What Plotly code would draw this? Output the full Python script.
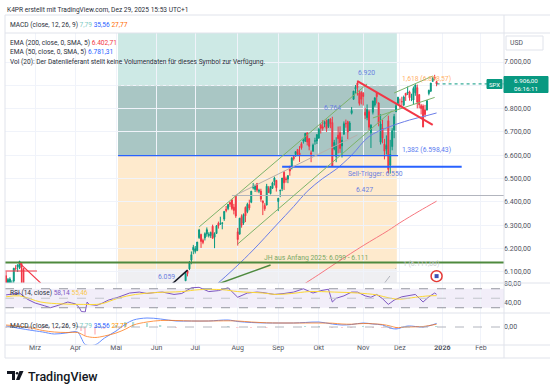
import plotly.graph_objects as go
from plotly.subplots import make_subplots

# ---------------- data ----------------
dates = [
    "2025-02-06","2025-02-07","2025-02-10","2025-02-11","2025-02-12","2025-02-13","2025-02-14","2025-02-18","2025-02-19","2025-02-20","2025-02-21","2025-02-24",
    "2025-06-24","2025-06-25","2025-06-26","2025-06-27","2025-06-30",
    "2025-07-01","2025-07-02","2025-07-03","2025-07-07","2025-07-08","2025-07-09","2025-07-10","2025-07-11","2025-07-14","2025-07-15","2025-07-16","2025-07-17","2025-07-18","2025-07-21","2025-07-22","2025-07-23","2025-07-24","2025-07-25","2025-07-28","2025-07-29","2025-07-30","2025-07-31",
    "2025-08-01","2025-08-04","2025-08-05","2025-08-06","2025-08-07","2025-08-08","2025-08-11","2025-08-12","2025-08-13","2025-08-14","2025-08-15","2025-08-18","2025-08-19","2025-08-20","2025-08-21","2025-08-22","2025-08-25","2025-08-26","2025-08-27","2025-08-28","2025-08-29",
    "2025-09-02","2025-09-03","2025-09-04","2025-09-05","2025-09-08","2025-09-09","2025-09-10","2025-09-11","2025-09-12","2025-09-15","2025-09-16","2025-09-17","2025-09-18","2025-09-19","2025-09-22","2025-09-23","2025-09-24","2025-09-25","2025-09-26","2025-09-29","2025-09-30",
    "2025-10-01","2025-10-02","2025-10-03","2025-10-06","2025-10-07","2025-10-08","2025-10-09","2025-10-10","2025-10-13","2025-10-14","2025-10-15","2025-10-16","2025-10-17","2025-10-20","2025-10-21","2025-10-22","2025-10-23","2025-10-24","2025-10-27","2025-10-28","2025-10-29","2025-10-30","2025-10-31",
    "2025-11-03","2025-11-04","2025-11-05","2025-11-06","2025-11-07","2025-11-10","2025-11-11","2025-11-12","2025-11-13","2025-11-14","2025-11-17","2025-11-18","2025-11-19","2025-11-20","2025-11-21","2025-11-24","2025-11-25","2025-11-26","2025-11-28",
    "2025-12-01","2025-12-02","2025-12-03","2025-12-04","2025-12-05","2025-12-08","2025-12-09","2025-12-10","2025-12-11","2025-12-12","2025-12-15","2025-12-16","2025-12-17","2025-12-18","2025-12-19","2025-12-22","2025-12-23","2025-12-24","2025-12-26","2025-12-29",
]
opens = [
    6073,6083,6047,6049,6026,6060,6116,6121,6117,6134,6114,6027,
    6061,6104,6112,6150,6193,
    6187,6191,6246,6260,6235,6245,6262,6255,6255,6295,6248,6264,6308,6304,6307,6326,6368,6371,6397,6409,6377,6427,
    6271,6261,6337,6309,6376,6358,6388,6398,6460,6453,6478,6445,6446,6404,6384,6386,6457,6435,6458,6486,6492,
    6401,6447,6456,6527,6499,6497,6547,6545,6594,6603,6624,6610,6649,6661,6660,6696,6671,6610,6617,6661,6661,
    6674,6731,6722,6735,6749,6723,6755,6740,6627,6594,6686,6697,6640,6690,6736,6744,6705,6780,6840,6885,6910,6867,6870,
    6866,6784,6761,6787,6696,6784,6815,6867,6824,6656,6717,6648,6626,6748,6557,6637,6708,6787,6822,
    6813,6830,6815,6866,6867,6872,6840,6837,6868,6890,6860,6813,6811,6795,6794,6865,6875,6917,6935,6916,
]
highs = [
    6084,6101,6073,6076,6063,6116,6128,6130,6147,6134,6115,6044,
    6101,6108,6146,6187,6215,
    6210,6227,6284,6263,6242,6269,6290,6269,6272,6302,6269,6300,6315,6336,6310,6360,6382,6390,6402,6409,6391,6428,
    6288,6330,6346,6350,6380,6396,6409,6446,6481,6474,6481,6456,6456,6404,6394,6477,6467,6466,6486,6508,6493,
    6416,6453,6502,6533,6508,6513,6555,6592,6600,6616,6627,6639,6656,6671,6695,6697,6673,6620,6650,6675,6689,
    6718,6732,6750,6747,6753,6755,6759,6765,6666,6677,6723,6724,6680,6745,6753,6748,6746,6807,6875,6901,6920,6879,6875,
    6871,6803,6818,6795,6733,6834,6846,6869,6827,6776,6752,6670,6685,6770,6666,6716,6777,6825,6850,
    6843,6851,6856,6866,6895,6877,6864,6895,6904,6903,6862,6820,6818,6816,6837,6881,6910,6935,6945,6919,
]
lows = [
    6060,6020,6045,6043,6003,6051,6105,6099,6111,6084,6009,5982,
    6061,6080,6107,6132,6175,
    6178,6188,6241,6202,6218,6234,6250,6247,6245,6241,6201,6263,6285,6303,6282,6318,6355,6364,6378,6364,6346,6331,
    6212,6261,6289,6301,6313,6351,6364,6394,6453,6442,6441,6437,6400,6343,6361,6385,6438,6432,6455,6470,6444,
    6360,6420,6446,6451,6482,6480,6512,6539,6577,6593,6598,6571,6624,6650,6657,6642,6621,6570,6615,6645,6648,
    6670,6693,6705,6720,6700,6717,6716,6550,6621,6570,6608,6610,6590,6688,6718,6669,6705,6775,6838,6865,6856,6813,6818,
    6813,6755,6750,6708,6631,6775,6808,6822,6724,6646,6651,6582,6603,6522,6521,6621,6673,6785,6821,
    6800,6808,6810,6833,6858,6834,6832,6819,6855,6801,6801,6775,6720,6763,6792,6857,6871,6915,6921,6896,
]
closes = [
    6083.57,6025.99,6066.44,6068.50,6051.97,6115.07,6114.63,6129.58,6144.15,6117.52,6013.13,5983.25,
    6092.18,6092.16,6141.02,6173.07,6204.95,
    6198.01,6227.42,6279.35,6229.98,6225.52,6263.26,6280.46,6259.75,6268.56,6243.76,6263.70,6297.36,6296.79,6305.60,6309.62,6358.91,6363.35,6388.64,6389.77,6370.86,6362.90,6339.39,
    6238.01,6329.94,6299.19,6345.06,6340.00,6389.45,6373.45,6445.76,6466.58,6468.54,6449.80,6449.15,6411.37,6395.78,6370.17,6466.91,6439.32,6465.94,6481.40,6501.86,6460.26,
    6415.54,6448.26,6502.08,6481.50,6495.15,6512.61,6532.04,6587.47,6584.29,6615.28,6606.76,6600.35,6631.96,6664.36,6693.75,6656.92,6637.97,6604.72,6643.70,6661.21,6688.46,
    6711.20,6715.35,6715.79,6740.28,6714.59,6753.72,6735.11,6552.51,6654.72,6644.31,6671.06,6629.07,6664.01,6735.13,6735.35,6699.40,6738.44,6791.69,6875.16,6890.89,6890.59,6822.34,6840.20,
    6851.97,6771.55,6796.29,6720.32,6728.80,6832.43,6846.61,6850.92,6737.49,6734.11,6672.41,6617.32,6642.16,6538.76,6602.99,6705.12,6765.88,6812.61,6849.09,
    6812.63,6829.37,6849.72,6857.12,6870.40,6846.51,6840.51,6886.68,6901.00,6827.41,6816.51,6800.26,6721.43,6774.76,6834.50,6878.49,6909.79,6932.05,6929.94,6906.00,
]

ema50_dates = ["2025-07-10","2025-07-17","2025-07-31","2025-08-13","2025-08-29","2025-09-12","2025-09-23","2025-10-03","2025-10-14","2025-10-24","2025-11-06","2025-11-20","2025-12-08","2025-12-18","2025-12-29"]
ema50_vals = [6010,6045,6120,6193,6300,6380,6445,6500,6540,6600,6680,6720,6751,6768,6781.31]
ema200_dates = ["2025-09-19","2025-10-01","2025-10-15","2025-11-03","2025-11-20","2025-12-01","2025-12-15","2025-12-29"]
ema200_vals = [6045,6088,6143,6212,6277,6310,6360,6402.71]

rsi_dates = ["2025-02-07","2025-02-14","2025-02-19","2025-02-25","2025-03-03","2025-03-10","2025-03-13","2025-03-19","2025-03-26","2025-03-28","2025-04-01","2025-04-03","2025-04-04","2025-04-08","2025-04-09","2025-04-10","2025-04-16","2025-04-22","2025-04-25","2025-05-02","2025-05-12","2025-05-19","2025-05-23","2025-05-30","2025-06-05","2025-06-13","2025-06-20","2025-06-27","2025-07-03","2025-07-11","2025-07-18","2025-07-25","2025-08-01","2025-08-08","2025-08-15","2025-08-20","2025-08-28","2025-09-05","2025-09-12","2025-09-19","2025-09-23","2025-09-26","2025-10-02","2025-10-08","2025-10-10","2025-10-14","2025-10-20","2025-10-24","2025-10-29","2025-11-04","2025-11-07","2025-11-12","2025-11-17","2025-11-20","2025-11-21","2025-11-25","2025-12-02","2025-12-11","2025-12-17","2025-12-22","2025-12-26","2025-12-29"]
rsi_vals = [57,60,61,48,40,34,30,35,42,40,38,30,22,21,42,37,35,40,46,52,61,63,60,62,63,58,60,72,73,64,66,72,52,61,63,62,58,60,63,70,66,61,66,69,42,50,55,63,63,55,52,58,49,37,40,46,53,58,42,53,61,58.14]
rsima_dates = ["2025-02-07","2025-02-19","2025-03-06","2025-03-21","2025-04-07","2025-04-21","2025-05-02","2025-05-15","2025-06-02","2025-06-20","2025-07-03","2025-07-22","2025-08-01","2025-08-20","2025-08-29","2025-09-11","2025-09-24","2025-10-13","2025-10-29","2025-11-12","2025-11-21","2025-12-01","2025-12-11","2025-12-22","2025-12-29"]
rsima_vals = [53,55,42,38,37,38,50,58,62,64,68,68,64,61,58,60,64,63,61,57,50,48,52,55,55.46]

macd_dates = ["2025-02-07","2025-02-26","2025-03-07","2025-03-17","2025-03-25","2025-04-02","2025-04-04","2025-04-08","2025-04-15","2025-04-23","2025-05-01","2025-05-08","2025-05-14","2025-05-23","2025-06-04","2025-06-16","2025-06-27","2025-07-11","2025-07-25","2025-08-01","2025-08-12","2025-08-22","2025-09-02","2025-09-12","2025-09-22","2025-10-01","2025-10-10","2025-10-17","2025-10-24","2025-11-03","2025-11-10","2025-11-17","2025-11-21","2025-11-26","2025-12-05","2025-12-17","2025-12-29"]
macd_vals = [10,-30,-50,-70,-60,-50,-110,-175,-180,-110,-40,30,70,90,80,60,60,60,70,55,45,40,40,40,45,50,30,20,25,40,30,20,-10,-20,10,0,35.56]
signal_vals = [20,-5,-35,-50,-55,-55,-70,-90,-105,-90,-60,-20,20,50,65,65,60,60,62,60,50,42,40,40,40,40,38,30,28,35,32,25,10,-5,0,5,27.77]

# ---------------- geometry helpers (layout only) ----------------
W, H = 550, 392
ML, MR, MT, MB = 5, 46, 33, 47
PW, PH = W - ML - MR, H - MT - MB

def px(x):
    return (x - ML) / PW

def py(y):
    return (H - MB - y) / PH

FONT = "Roboto, Liberation Sans, Arial, sans-serif"
TXT = "#2a2e39"
UP, DN = "#089981", "#f23645"
GRID = "#f0f3fa"
SEP = "#e0e3eb"

HOLIDAYS = ["2025-02-17","2025-04-18","2025-05-26","2025-06-19","2025-07-04","2025-09-01","2025-11-27","2025-12-25","2026-01-01","2026-01-19","2026-02-16"]
RB = [dict(bounds=["sat", "mon"]), dict(values=HOLIDAYS)]
X0, X1 = "2025-02-06 11:00", "2026-02-18 22:00"

tick_dates = ["2025-03-03","2025-04-01","2025-05-01","2025-06-02","2025-07-01","2025-08-01","2025-09-02","2025-10-01","2025-11-03","2025-12-01","2026-01-02","2026-02-02"]
tick_labels = ["Mrz","Apr","Mai","Jun","Jul","Aug","Sep","Okt","Nov","Dez","<b>2026</b>","Feb"]
price_ticks = [6100, 6200, 6300, 6400, 6500, 6600, 6700, 6800, 6900, 7000]
# the 6.900 label is hidden behind the last-price badge in the original
price_labels = ["6.100,00","6.200,00","6.300,00","6.400,00","6.500,00","6.600,00","6.700,00","6.800,00","","7.000,00"]

fig = make_subplots(rows=3, cols=1, shared_xaxes=True, vertical_spacing=0, row_heights=[250, 30, 32])

fig.add_trace(go.Candlestick(
    x=dates, open=opens, high=highs, low=lows, close=closes,
    increasing=dict(line=dict(color=UP, width=1), fillcolor=UP),
    decreasing=dict(line=dict(color=DN, width=1), fillcolor=DN),
    whiskerwidth=0, hoverinfo="skip", name="SPX"), row=1, col=1)

fig.add_trace(go.Scatter(x=ema50_dates, y=ema50_vals, mode="lines", line=dict(color="#6c7ee8", width=1, shape="spline"), hoverinfo="skip"), row=1, col=1)
fig.add_trace(go.Scatter(x=ema200_dates, y=ema200_vals, mode="lines", line=dict(color="#f7777f", width=1, shape="spline"), hoverinfo="skip"), row=1, col=1)

# event marker
fig.add_trace(go.Scatter(x=["2025-12-29"], y=[6081], mode="markers",
                         marker=dict(symbol="circle", size=11, color="white", line=dict(color="#e53935", width=1.5)), hoverinfo="skip"), row=1, col=1)
fig.add_trace(go.Scatter(x=["2025-12-29"], y=[6081], mode="markers",
                         marker=dict(symbol="square", size=4, color="#3f51b5"), hoverinfo="skip"), row=1, col=1)

# RSI
fig.add_trace(go.Scatter(x=rsi_dates, y=rsi_vals, mode="lines", line=dict(color="#7e57c2", width=1), hoverinfo="skip"), row=2, col=1)
fig.add_trace(go.Scatter(x=rsima_dates, y=rsima_vals, mode="lines", line=dict(color="#fdd835", width=1, shape="spline"), hoverinfo="skip"), row=2, col=1)

# MACD
hist_vals = [m - s for m, s in zip(macd_vals, signal_vals)]
hist_cols = ["#b2dfdb" if v >= 0 else "#ffcdd2" for v in hist_vals]
fig.add_trace(go.Bar(x=macd_dates, y=hist_vals, marker=dict(color=hist_cols, line=dict(width=0)), width=86400000 * 0.8, hoverinfo="skip"), row=3, col=1)
fig.add_trace(go.Scatter(x=macd_dates, y=macd_vals, mode="lines", line=dict(color="#2962ff", width=1, shape="spline"), opacity=0.7, hoverinfo="skip"), row=3, col=1)
fig.add_trace(go.Scatter(x=macd_dates, y=signal_vals, mode="lines", line=dict(color="#ff6d00", width=1, shape="spline"), opacity=0.7, hoverinfo="skip"), row=3, col=1)

xcommon = dict(type="date", rangebreaks=RB, range=[X0, X1], showgrid=True, gridcolor=GRID, gridwidth=1,
               tickvals=tick_dates, ticktext=tick_labels, zeroline=False, showline=False,
               rangeslider=dict(visible=False), ticks="", fixedrange=True)
fig.update_xaxes(**xcommon)
fig.update_xaxes(showticklabels=False, row=1, col=1)
fig.update_xaxes(showticklabels=False, row=2, col=1)
fig.update_xaxes(showticklabels=True, ticklabelstandoff=-3, tickfont=dict(family=FONT, size=7, color="#50535e"), row=3, col=1)

YT = dict(family=FONT, size=7, color="#50535e")
fig.update_layout(
    yaxis=dict(domain=[62 / PH, 1], side="right", range=[6051.5, 7124.5], tickvals=price_ticks, ticktext=price_labels,
               showgrid=True, gridcolor=GRID, zeroline=False, ticks="", ticklabelstandoff=-1, tickfont=YT),
    yaxis2=dict(domain=[32 / PH, 62 / PH], side="right", range=[18.9, 82.1], tickvals=[40, 80], ticktext=["40,00", "80,00"],
                showgrid=False, zeroline=False, ticks="", ticklabelstandoff=-1, tickfont=YT),
    yaxis3=dict(domain=[0, 32 / PH], side="right", range=[-180, 140], tickvals=[0], ticktext=["0,00"],
                showgrid=False, zeroline=False, ticks="", ticklabelstandoff=-1, tickfont=YT),
)

shapes = []

def rect_d(x0, x1, y0, y1, color):
    shapes.append(dict(type="rect", xref="x", yref="y", x0=x0, x1=x1, y0=y0, y1=y1, fillcolor=color, line=dict(width=0), layer="below"))

def line_d(x0, y0, x1, y1, color, width=1, dash="solid", yref="y"):
    shapes.append(dict(type="line", xref="x", yref=yref, x0=x0, y0=y0, x1=x1, y1=y1, line=dict(color=color, width=width, dash=dash)))

def line_p(x0, y0, x1, y1, color=SEP, width=1, dash="solid"):
    shapes.append(dict(type="line", xref="paper", yref="paper", x0=px(x0), y0=py(y0), x1=px(x1), y1=py(y1), line=dict(color=color, width=width, dash=dash)))

def rect_p(x0, y0, x1, y1, fill, line_color=None):
    shapes.append(dict(type="rect", xref="paper", yref="paper", x0=px(x0), y0=py(y0), x1=px(x1), y1=py(y1), fillcolor=fill,
                       line=dict(color=line_color or fill, width=1)))

# Fibonacci extension zones
FIB_L, FIB_R = "2025-05-02", "2025-11-26 10:00"
rect_d(FIB_L, FIB_R, 6898.57, 7124.5, "#cde9e5")
rect_d(FIB_L, FIB_R, 6598.43, 6898.57, "#a9c6c4")
rect_d(FIB_L, FIB_R, 6111.0, 6598.43, "#feeacd")
rect_d(FIB_L, FIB_R, 6051.5, 6111.0, "#efeff2")
line_d(FIB_L, 6898.57, FIB_R, 6898.57, "#d6e4e2", 1, "dot")
line_d(FIB_L, 6598.43, "2025-11-28", 6598.43, "#2962ff", 1.2)

# horizontal levels
line_d(X0, 6140, X1, 6140, "#4e8a3e", 2)
line_d("2025-07-29", 6427, X1, 6427, "#b2b5be", 1)
line_d("2025-09-04", 6550, "2026-01-16", 6550, "#2962ff", 2)

# channel & trend lines
line_d("2025-07-03", 6292, "2025-11-05", 6906, "#7cb36a", 1)
line_d("2025-08-01", 6219, "2025-11-24", 6791, "#7cb36a", 1)
line_d("2025-07-31", 6429, "2025-10-29", 6687, "#b8b0ac", 1)
line_d("2025-11-25", 6867, "2025-12-24", 6940, "#7cb36a", 1)
line_d("2025-11-10", 6760, "2025-12-26", 6848, "#7cb36a", 1)
line_d("2025-10-29", 6918, "2025-12-24", 6730, "#f23645", 2)
line_d("2025-07-10", 6030, "2025-08-26", 6129, "#4e8a3e", 1.5)
line_d("2025-06-11", 6040, "2025-06-25", 6107, "#131722", 1.5)
line_d("2025-11-18", 6051, "2025-11-26", 6116, "#b2b5be", 1, "dash")

# red drawing on the left
line_d(X0, 6103, "2025-03-04", 6103, "#f23645", 1)
line_d("2025-02-19", 6137, "2025-03-06", 6051, "#f23645", 1.2)
line_d("2025-02-20", 6137, "2025-02-20", 6051, "#f23645", 1.2)

# current price dotted line
line_d("2025-12-29", 6906, X1, 6906, UP, 1, "dot")

# RSI band and levels
shapes.append(dict(type="rect", xref="paper", yref="y2", x0=0, x1=1, y0=30, y1=70, fillcolor="rgba(126,87,194,0.10)", line=dict(width=0), layer="below"))
for lv, c in [(70, "#9598a1"), (50, "#c3c5cc"), (30, "#9598a1")]:
    shapes.append(dict(type="line", xref="paper", yref="y2", x0=0, x1=1, y0=lv, y1=lv, line=dict(color=c, width=1, dash="dash")))
shapes.append(dict(type="line", xref="paper", yref="y3", x0=0, x1=1, y0=0, y1=0, line=dict(color="#b2b5be", width=1, dash="dash")))

# frame and separators
line_p(5, 15, 550, 15)
line_p(5, 33, 550, 33)
line_p(5, 283, 550, 283)
line_p(5, 313, 550, 313)
line_p(5, 345, 550, 345)
line_p(5, 358, 550, 358)
line_p(5, 15, 5, 358)
line_p(504, 15, 504, 358)

# price labels at right
rect_p(506, 36, 543, 50, "white", SEP)
rect_p(504, 76.5, 548, 92.5, UP)
rect_p(487, 79.5, 502, 88.5, UP)

# TradingView logo glyph
shapes.append(dict(type="path", xref="paper", yref="paper",
                   path="M {} {} L {} {} L {} {} L {} {} L {} {} L {} {} Z".format(
                       px(7), py(371), px(15), py(371), px(15), py(380), px(12), py(380), px(12), py(374), px(7), py(374)),
                   fillcolor="#131722", line=dict(width=0)))
shapes.append(dict(type="circle", xref="paper", yref="paper", x0=px(15.8), y0=py(374.5), x1=px(18.4), y1=py(371.9),
                   fillcolor="#131722", line=dict(width=0)))
shapes.append(dict(type="path", xref="paper", yref="paper",
                   path="M {} {} L {} {} L {} {} L {} {} Z".format(px(19.5), py(371), px(23.5), py(371), px(19.5), py(380), px(16), py(380)),
                   fillcolor="#131722", line=dict(width=0)))

fig.update_layout(shapes=shapes)

ann = []

def t(x, y, s, color=TXT, size=6.6, xanchor="left", weight=None):
    f = dict(family=FONT, size=size, color=color)
    if weight:
        f["weight"] = weight
    ann.append(dict(x=px(x), y=py(y), xref="paper", yref="paper", text=s, showarrow=False,
                    xanchor=xanchor, yanchor="middle", font=f, borderpad=0))

t(6, 9.5, "K4PR erstellt mit TradingView.com, Dez 29, 2025 15:53 UTC+1")
t(9, 24.5, 'MACD (close, 12, 26, 9) <span style="color:#80cbc4">7,79</span> <span style="color:#2962ff">35,56</span> <span style="color:#ff6d00">27,77</span>')
t(9, 43, 'EMA (200, close, 0, SMA, 5) <span style="color:#f23645">6.402,71</span>')
t(9, 52, 'EMA (50, close, 0, SMA, 5) <span style="color:#2962ff">6.781,31</span>')
t(9, 61.5, "Vol (20): Der Datenlieferant stellt keine Volumendaten für dieses Symbol zur Verfügung.")
t(9, 293, 'RSI (14, close) <span style="color:#7e57c2">58,14</span> <span style="color:#f9c74f">55,46</span>')
t(9, 326, 'MACD (close, 12, 26, 9) <span style="color:#80cbc4">7,79</span> <span style="color:#2962ff">35,56</span> <span style="color:#ff9800">27,77</span>')

LAB = "#6b7fe0"
t(366, 73, "6.920", LAB, 6.8, "center")
t(332, 108, "6.764", LAB, 6.8, "center")
t(166, 276.5, "6.059", LAB, 6.8, "center")
t(364, 189.5, "6.427", LAB, 6.8, "center")
t(375, 173.5, "Sell-Trigger: 6.550", LAB, 6.8, "center")
t(316, 258, "JH aus Anfang 2025: 6.099 - 6.111", "#7aa866", 6.8, "center")
t(401, 79, "1,618 (6.898,57)", "#ffb26b", 6.8)
t(401, 149.5, "1,382 (6.598,43)", "#5b7cf0", 6.8)
t(402, 263.5, "1 (6.111,00)", "#c9cbd1", 6.8)

t(516, 43, "USD", "#50535e", 6.8, "center")
t(526, 84.5, "6.906,00<br>06:16:11", "white", 6.2, "center")
t(494.5, 84, "SPX", "white", 6.0, "center")

t(27, 376, "TradingView", "#131722", 12.5, "left", 500)

fig.update_layout(
    annotations=ann,
    width=W, height=H,
    margin=dict(l=ML, r=MR, t=MT, b=MB),
    paper_bgcolor="white", plot_bgcolor="white",
    showlegend=False, hovermode=False,
    font=dict(family=FONT, size=7, color=TXT),
)

fig.write_html("out.html", config={"displayModeBar": False},
               post_script="document.body.style.margin='0px';document.body.style.padding='0px';document.documentElement.style.overflow='hidden';")
